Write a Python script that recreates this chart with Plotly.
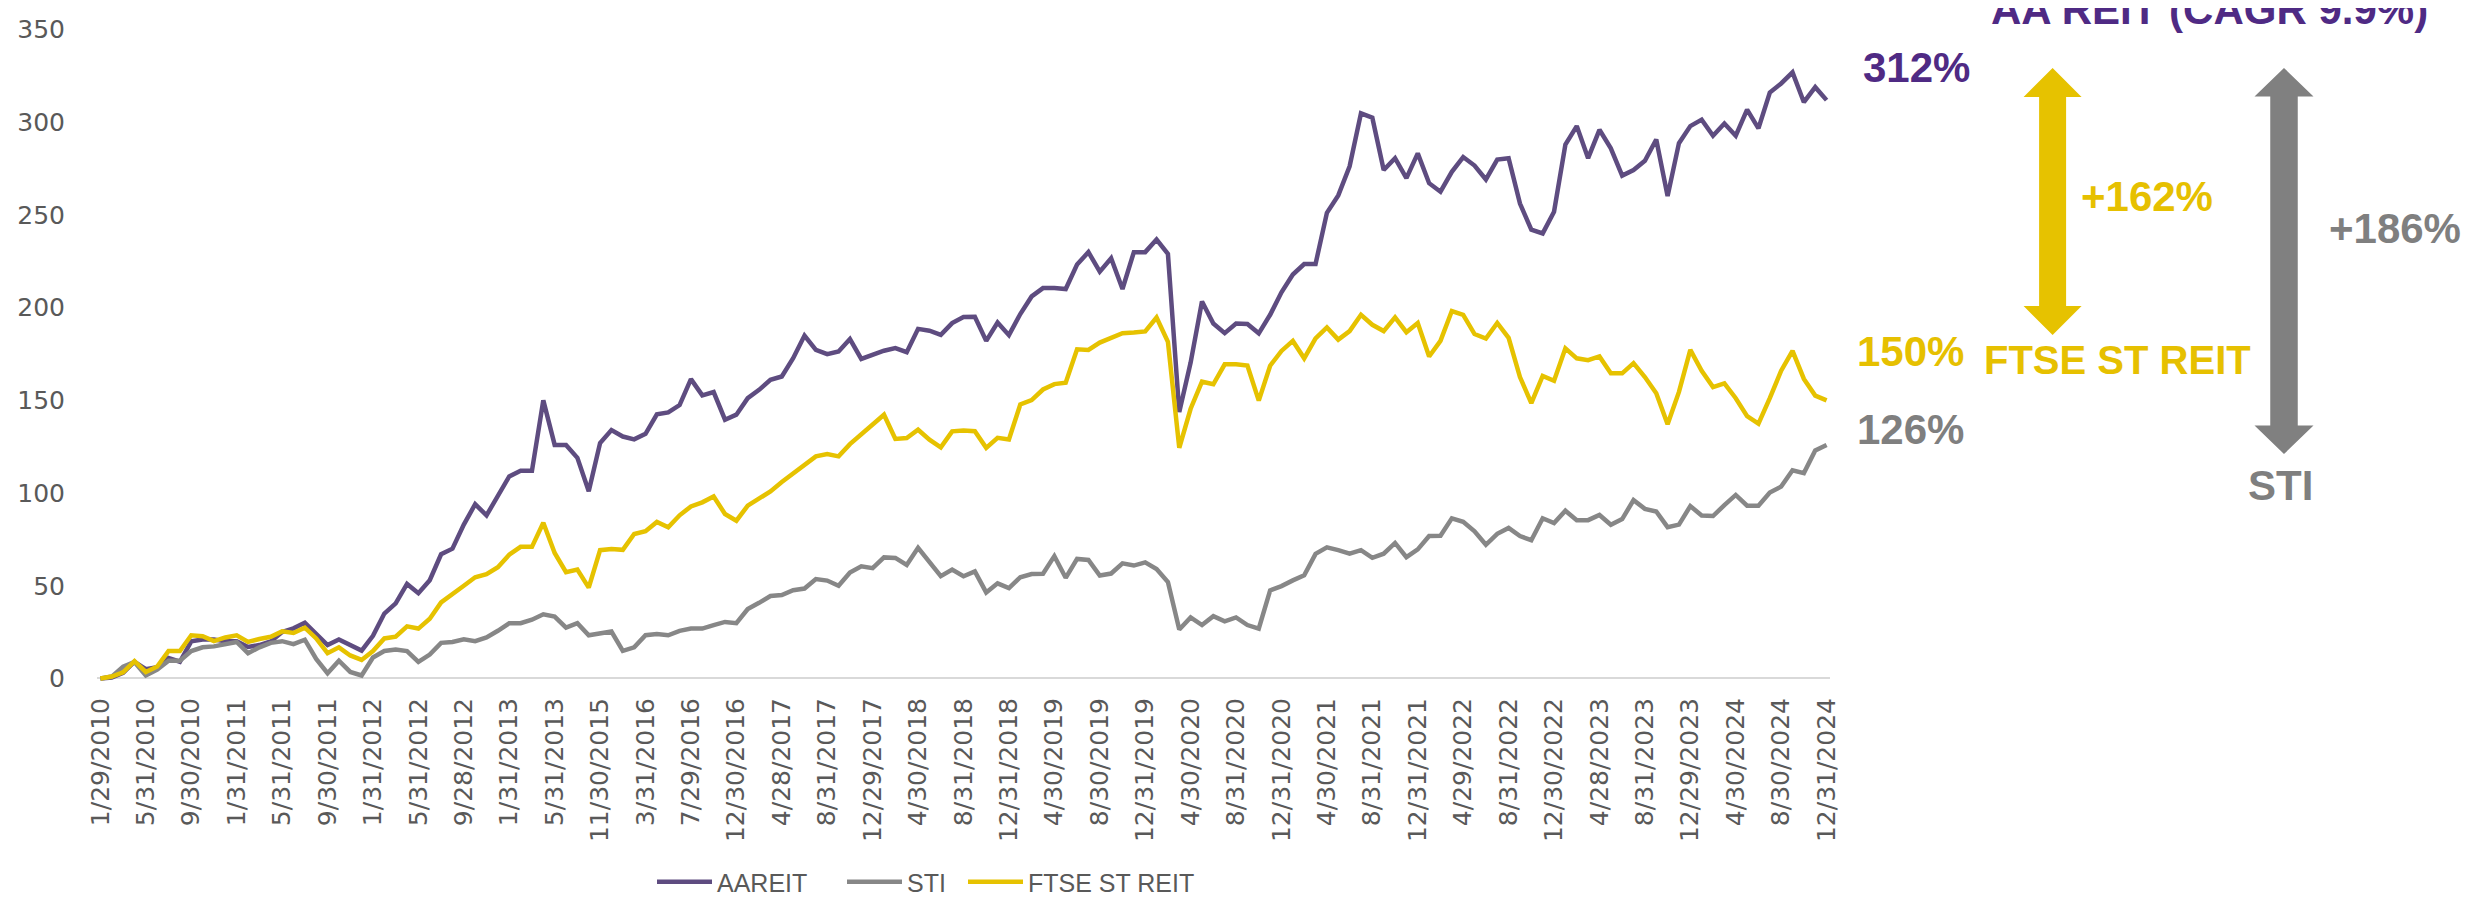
import plotly.graph_objects as go

# ---------------- data ----------------
tick_labels = [
    "1/29/2010", "5/31/2010", "9/30/2010", "1/31/2011", "5/31/2011", "9/30/2011",
    "1/31/2012", "5/31/2012", "9/28/2012", "1/31/2013", "5/31/2013", "11/30/2015",
    "3/31/2016", "7/29/2016", "12/30/2016", "4/28/2017", "8/31/2017", "12/29/2017",
    "4/30/2018", "8/31/2018", "12/31/2018", "4/30/2019", "8/30/2019", "12/31/2019",
    "4/30/2020", "8/31/2020", "12/31/2020", "4/30/2021", "8/31/2021", "12/31/2021",
    "4/29/2022", "8/31/2022", "12/30/2022", "4/28/2023", "8/31/2023", "12/29/2023",
    "4/30/2024", "8/30/2024", "12/31/2024",
]
tick_step = 4

aareit = [
    0, 0.5, 3, 9, 5, 6, 11, 9, 20, 21, 21, 20, 20, 17, 18, 20, 25, 27, 30, 24,
    18, 21, 18, 15, 23, 35, 40.5, 51, 46, 53, 67, 70, 83, 94, 88, 98, 109, 112, 112, 150,
    126, 126, 119, 101, 127, 134, 130.5, 129, 132, 142.5, 143.5, 147.5, 161.5, 152.7, 154.5, 139.6, 142.3, 151.2, 155.7, 161.1,
    162.9, 172.8, 185, 177.3, 175, 176.4, 183.1, 172.4, 174.6, 176.8, 178.2, 176, 188.6, 187.6, 185.4, 191.7, 195, 195.1, 182.1, 192,
    185.2, 196.6, 206.1, 210.6, 210.6, 210.1, 223.3, 230, 219.5, 226.7, 210.1, 230, 230, 236.8, 229.1, 143.7, 170.4, 203.4, 191.5, 186.3,
    191.5, 191.2, 186.2, 196.2, 208.3, 217.9, 223.6, 223.6, 251.2, 260.6, 276.3, 304.9, 302.5, 274.3, 280.7, 269.9, 283.3, 267.2, 262.6, 273.3,
    281.3, 276.7, 269.2, 279.9, 280.7, 256.2, 242.1, 240.1, 251.8, 288, 298, 280.7, 296, 286, 271.3, 274.3, 279.3, 290.8, 260.2, 288.8,
    298, 301.5, 292.8, 299.4, 292.8, 306.9, 296.8, 316.1, 321, 327, 310.9, 319, 312,
]

sti = [
    0, 1, 6.4, 8.9, 1.6, 4.8, 9.6, 9.6, 14.8, 16.8, 17.3, 18.5, 19.7, 13.6, 16.8, 19.2, 20.1, 18.5, 20.9, 10.5,
    2.8, 9.6, 3.5, 1.6, 11.3, 14.8, 15.6, 14.8, 8.9, 12.9, 19.2, 19.7, 21.1, 20.1, 22.1, 25.7, 29.8, 29.8, 31.7, 34.6,
    33.4, 27.4, 29.8, 23.3, 24.1, 25.3, 14.9, 16.8, 23.3, 24, 23.3, 25.7, 26.9, 26.9, 28.8, 30.5, 29.8, 37.4, 40.8, 44.5,
    45, 47.6, 48.5, 53.6, 52.8, 50, 57.2, 60.5, 59.5, 65.3, 65, 61.2, 70.5, 63.1, 55.2, 58.7, 55.1, 57.7, 46.4, 51.3,
    48.7, 54.6, 56.3, 56.5, 66, 54.3, 64.5, 63.9, 55.5, 56.6, 62.1, 60.9, 62.6, 59, 52, 26.4, 32.9, 28.8, 33.6, 30.8,
    32.9, 28.8, 26.9, 47.5, 49.8, 52.9, 55.6, 67.2, 70.7, 69.2, 67.3, 69.2, 65.1, 67.3, 73.1, 65.4, 69.6, 76.8, 77, 86.4,
    84.5, 79.4, 72.1, 78, 81.2, 76.8, 74.6, 86.4, 83.8, 90.5, 85.4, 85.4, 88.2, 82.9, 86, 96.2, 91.5, 90.1, 81.6, 83,
    93, 87.9, 87.6, 93.5, 99, 93.2, 93.2, 100.3, 103.5, 112.3, 110.8, 123, 126,
]

ftse_st_reit = [
    0, 1, 3.3, 9.3, 3.5, 6.4, 14.8, 14.8, 23.3, 22.8, 20.1, 22.1, 23.3, 19.7, 21.3, 22.5, 25.4, 24.5, 27.4, 21.6,
    13.6, 16.8, 12.4, 10, 14.8, 21.6, 22.5, 28.1, 26.9, 32.2, 41, 45.8, 50, 54.6, 56.2, 60, 66.8, 71, 71, 84,
    67.7, 57.3, 58.8, 49, 69.2, 69.8, 69.4, 77.9, 79.4, 84.4, 81.5, 88, 92.8, 95, 98.2, 88.7, 85.1, 93.2, 97, 100.9,
    106, 110.8, 115.3, 119.8, 121, 119.8, 126.4, 131.5, 137.2, 142.3, 129.2, 129.7, 134.2, 128.8, 124.7, 133.3, 133.8, 133.4, 124.4, 129.8,
    128.9, 147.8, 150.2, 155.9, 158.8, 159.6, 177.6, 177.2, 181.2, 183.9, 186.3, 186.6, 187.2, 194.7, 181.6, 124.4, 145.5, 160.1, 158.7, 169.5,
    169.5, 168.8, 149.9, 168.7, 176.7, 182.1, 172.7, 183.4, 189.4, 182.8, 187.4, 196.2, 190.8, 187.4, 194.8, 186.8, 191.8, 173.7, 182.1, 198.2,
    196.2, 185.8, 183.4, 191.8, 183.8, 162.6, 148.5, 163.2, 160.6, 178.1, 172.7, 171.7, 173.7, 164.6, 164.6, 170.1, 162.6, 153.9, 137.1, 154.6,
    177.3, 166, 157.2, 159.2, 151.2, 141.5, 137.5, 151.2, 166, 176.7, 161.6, 152.6, 150,
]

series_names = ["AAREIT", "STI", "FTSE ST REIT"]
series_colors = ["#5E4C80", "#878787", "#E6C200"]

# ---------------- layout constants ----------------
W, H = 2474, 898
ML, MR, MT, MB = 89, 652, 18, 222
PW, PH = W - ML - MR, H - MT - MB

def px(x):
    return (x - ML) / PW

def py(y):
    return (H - MB - y) / PH

x_idx = list(range(len(aareit)))
legend_ids = ["legend", "legend2", "legend3"]
legend_x = [644, 834, 955]  # left edge of each legend entry (px)

fig = go.Figure()
for name, vals, col, lid in zip(series_names, [aareit, sti, ftse_st_reit], series_colors, legend_ids):
    fig.add_trace(go.Scatter(
        x=x_idx, y=vals, mode="lines", name=name, legend=lid,
        line=dict(color=col, width=4.5),
    ))

PURPLE_T = "#4F2A84"
YELLOW_T = "#E6C000"
GRAY_T = "#7F7F7F"
bold = "Liberation Sans, Arial, sans-serif"

ann = [
    ("AA REIT (CAGR 9.9%)", 2201, 2, PURPLE_T, 42),
    ("312%", 1908, 60, PURPLE_T, 42),
    ("+162%", 2139, 188, YELLOW_T, 42),
    ("+186%", 2387, 221, GRAY_T, 42),
    ("150%", 1902, 343, YELLOW_T, 42),
    ("FTSE ST REIT", 2109, 352, YELLOW_T, 40),
    ("126%", 1902, 421, GRAY_T, 42),
    ("STI", 2272, 478, GRAY_T, 42),
]
annotations = []
for txt, ax_, ay_, c, fs in ann:
    annotations.append(dict(
        text="<b>%s</b>" % txt, x=px(ax_), y=py(ay_), xref="paper", yref="paper",
        xanchor="center", yanchor="middle", showarrow=False,
        font=dict(family=bold, size=fs, color=c),
    ))

def double_arrow(cx, top, bottom, shaft_hw, head_hw, head_h):
    pts = [
        (cx, top), (cx + head_hw, top + head_h), (cx + shaft_hw, top + head_h),
        (cx + shaft_hw, bottom - head_h), (cx + head_hw, bottom - head_h), (cx, bottom),
        (cx - head_hw, bottom - head_h), (cx - shaft_hw, bottom - head_h),
        (cx - shaft_hw, top + head_h), (cx - head_hw, top + head_h),
    ]
    return "M " + " L ".join("%.5f,%.5f" % (px(a), py(b)) for a, b in pts) + " Z"

shapes = [
    dict(type="path", xref="paper", yref="paper",
         path=double_arrow(2044.6, 60, 327, 13.5, 29, 29),
         fillcolor="#E6C200", line=dict(width=0)),
    dict(type="path", xref="paper", yref="paper",
         path=double_arrow(2276, 60, 446, 13.75, 29.5, 28.5),
         fillcolor="#808080", line=dict(width=0)),
]

leg_common = dict(
    orientation="h", yanchor="top", xanchor="left",
    font=dict(family="Liberation Sans, Arial, sans-serif", size=25, color="#595959"),
    bgcolor="rgba(0,0,0,0)", borderwidth=0, itemwidth=55,
)

LEG_TOP = 851

fig.update_layout(
    width=W, height=H,
    margin=dict(l=ML, r=MR, t=MT, b=MB, autoexpand=False),
    paper_bgcolor="white", plot_bgcolor="white",
    showlegend=True,
    legend=dict(x=px(legend_x[0]), y=py(LEG_TOP), **leg_common),
    legend2=dict(x=px(legend_x[1]), y=py(LEG_TOP), **leg_common),
    legend3=dict(x=px(legend_x[2]), y=py(LEG_TOP), **leg_common),
    annotations=annotations,
    shapes=shapes,
    xaxis=dict(
        range=[-0.3, len(aareit) - 0.7],
        tickmode="array",
        tickvals=list(range(0, len(aareit), tick_step)),
        ticktext=tick_labels,
        tickangle=-90,
        showgrid=False, zeroline=False, showline=False,
        ticks="outside", ticklen=3, tickcolor="rgba(0,0,0,0)",
        tickfont=dict(family="DejaVu Sans, sans-serif", size=25, color="#595959"),
    ),
    yaxis=dict(
        range=[-3, 352],
        tickmode="array", tickvals=[0, 50, 100, 150, 200, 250, 300, 350],
        showgrid=False, zeroline=True, zerolinecolor="#D9D9D9", zerolinewidth=2,
        showline=False,
        ticks="outside", ticklen=26, tickcolor="rgba(0,0,0,0)",
        tickfont=dict(family="DejaVu Sans, sans-serif", size=25, color="#595959"),
    ),
)

fig.write_html("out.html")
